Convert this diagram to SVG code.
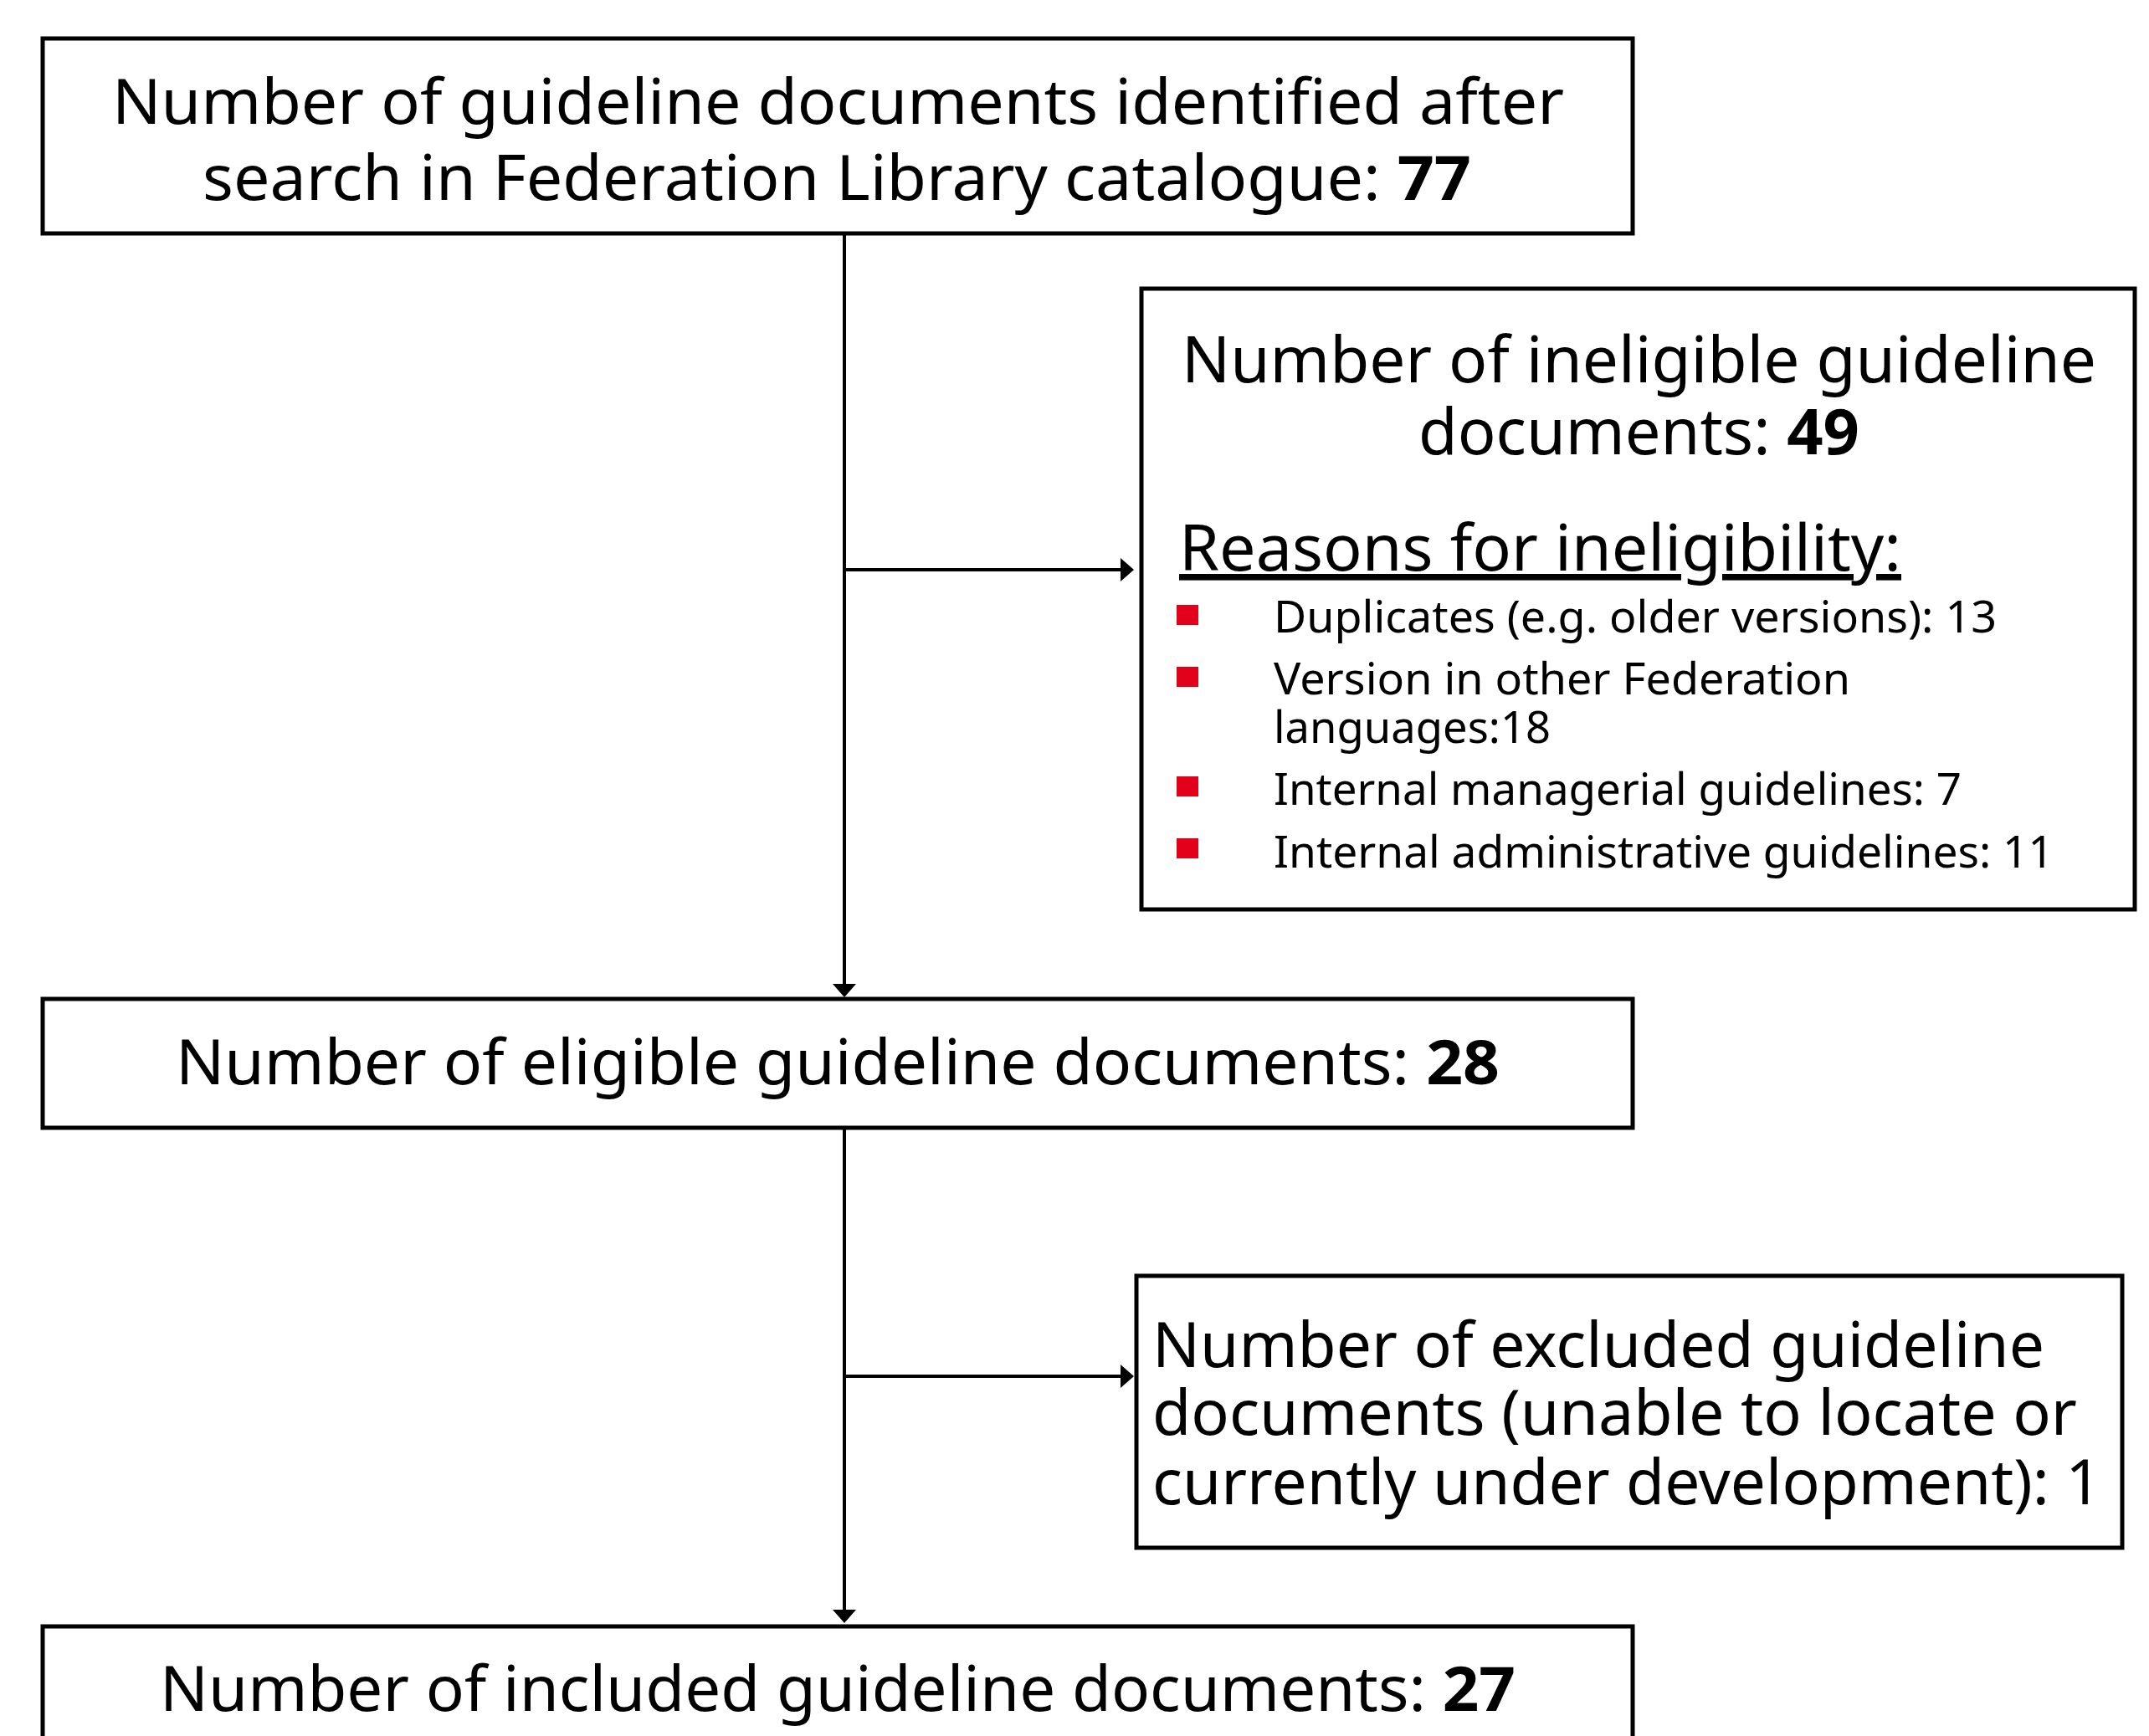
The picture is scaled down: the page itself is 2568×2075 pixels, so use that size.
<svg xmlns="http://www.w3.org/2000/svg" width="2568" height="2075" viewBox="0 0 2568 2075">
<style>
.box{fill:#fff;stroke:#000;stroke-width:5}
.t{font-family:"Noto Sans","Open Sans",sans-serif;fill:#000}
.big{font-size:74px}
.hd{font-size:76px}
.bl{font-size:52px}
.b{font-weight:bold}
.conn{fill:none;stroke:#000;stroke-width:4}
.sq{fill:#E2001A}
</style>
<defs>
<marker id="arr" viewBox="0 0 16 28" refX="8" refY="14" markerWidth="16" markerHeight="28" markerUnits="userSpaceOnUse" orient="auto">
<path d="M0,0 L16,14 L0,28 z" fill="#000"/>
</marker>
</defs>
<rect width="2568" height="2075" fill="#fff"/>
<g id="connectors">
<path class="conn" d="M1009,279 V1184" marker-end="url(#arr)"/>
<path class="conn" d="M1009,681 H1347" marker-end="url(#arr)"/>
<path class="conn" d="M1009,1348 V1932" marker-end="url(#arr)"/>
<path class="conn" d="M1009,1645 H1347" marker-end="url(#arr)"/>
</g>
<g id="identified">
<rect class="box" x="51" y="46" width="1900" height="233"/>
<text class="t big"><tspan x="134" y="148" textLength="1735" lengthAdjust="spacingAndGlyphs">Number of guideline documents identified after</tspan><tspan x="242" y="239" textLength="1516" lengthAdjust="spacingAndGlyphs">search in Federation Library catalogue: <tspan class="b">77</tspan></tspan></text>
</g>
<g id="ineligible">
<rect class="box" x="1364" y="345" width="1187" height="742"/>
<text class="t hd"><tspan x="1412" y="457" textLength="1093" lengthAdjust="spacingAndGlyphs">Number of ineligible guideline</tspan><tspan x="1695" y="543" textLength="527" lengthAdjust="spacingAndGlyphs">documents: <tspan class="b">49</tspan></tspan></text>
<text class="t hd" x="1409" y="682" textLength="863" lengthAdjust="spacingAndGlyphs" text-decoration="underline">Reasons for ineligibility:</text>
<rect class="sq" x="1406" y="723" width="26" height="24"/>
<rect class="sq" x="1406" y="797" width="26" height="24"/>
<rect class="sq" x="1406" y="928" width="26" height="24"/>
<rect class="sq" x="1406" y="1002" width="26" height="24"/>
<text class="t bl" x="1522" y="756" textLength="864" lengthAdjust="spacingAndGlyphs">Duplicates (e.g. older versions): 13</text>
<text class="t bl"><tspan x="1522" y="830" textLength="689" lengthAdjust="spacingAndGlyphs">Version in other Federation</tspan><tspan x="1522" y="888" textLength="331" lengthAdjust="spacingAndGlyphs">languages:18</tspan></text>
<text class="t bl" x="1522" y="962" textLength="822" lengthAdjust="spacingAndGlyphs">Internal managerial guidelines: 7</text>
<text class="t bl" x="1522" y="1037" textLength="932" lengthAdjust="spacingAndGlyphs">Internal administrative guidelines: 11</text>
</g>
<g id="eligible">
<rect class="box" x="51" y="1194" width="1900" height="154"/>
<text class="t big" x="210" y="1296" textLength="1582" lengthAdjust="spacingAndGlyphs">Number of eligible guideline documents: <tspan class="b">28</tspan></text>
</g>
<g id="excluded">
<rect class="box" x="1358" y="1525" width="1178" height="325"/>
<text class="t big"><tspan x="1377" y="1634" textLength="1066" lengthAdjust="spacingAndGlyphs">Number of excluded guideline</tspan><tspan x="1377" y="1715" textLength="1105" lengthAdjust="spacingAndGlyphs">documents (unable to locate or</tspan><tspan x="1377" y="1798" textLength="1134" lengthAdjust="spacingAndGlyphs">currently under development): 1</tspan></text>
</g>
<g id="included">
<rect class="box" x="51" y="1944" width="1900" height="160"/>
<text class="t big" x="191" y="2045" textLength="1620" lengthAdjust="spacingAndGlyphs">Number of included guideline documents: <tspan class="b">27</tspan></text>
</g>
</svg>
